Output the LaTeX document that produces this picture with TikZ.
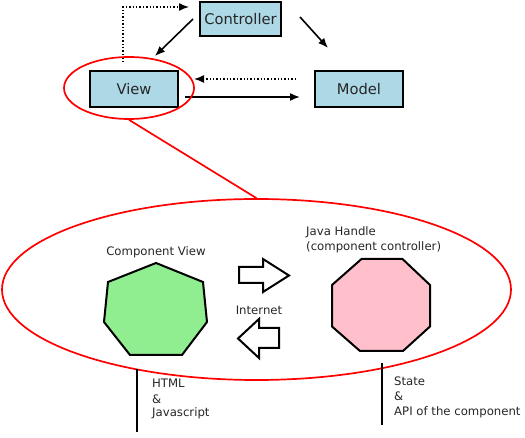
\documentclass[tikz,border=0pt]{standalone}
\usepackage{fontspec}
\setmainfont{DejaVu Sans}
\usetikzlibrary{arrows.meta,shapes.geometric}
\definecolor{boxblue}{HTML}{ADD8E6}
\definecolor{hepgreen}{HTML}{90EE90}
\definecolor{octpink}{HTML}{FFC0CB}
\tikzset{
  mvcbox/.style={draw=black,line width=2pt,fill=boxblue,inner sep=0pt,text=black!85,font=\fontsize{14.7}{17}\selectfont},
  solidarr/.style={line width=1.6pt,-{Latex[length=10pt,width=8pt]}},
  dotarr/.style={line width=1.4pt,dotted,-{Latex[length=10pt,width=8pt]}},
  redring/.style={draw=red,line width=1.7pt,ellipse,inner sep=0pt},
  shapeline/.style={draw=black,line width=2pt},
  lbl/.style={inner sep=0pt,font=\fontsize{11.7}{15}\selectfont,text=black!85},
  stem/.style={line width=2pt}
}
\begin{document}
\begin{tikzpicture}[x=1pt,y=-1pt]
\useasboundingbox (0,0) rectangle (525,438);
% MVC boxes
\node[mvcbox,minimum width=81pt,minimum height=34pt] (Controller) at (240.5,19) {Controller};
\node[mvcbox,minimum width=88pt,minimum height=36pt] (View) at (134,89) {View};
\node[mvcbox,minimum width=88pt,minimum height=36pt] (Model) at (359,89) {Model};
% MVC arrows
\draw[dotarr] ([xshift=-11pt,yshift=8pt]View.north) |- ([xshift=-10pt,yshift=12pt]Controller.west);
\draw[solidarr] ([xshift=-6pt]Controller.west) -- ([xshift=21pt,yshift=14pt]View.north);
\draw[solidarr] ([xshift=18pt,yshift=2pt]Controller.east) -- ([xshift=-31pt,yshift=22pt]Model.north);
\draw[dotarr] ([xshift=-18pt,yshift=10pt]Model.west) -- ([xshift=15pt,yshift=10pt]View.east);
\draw[solidarr] ([xshift=6pt,yshift=-8pt]View.east) -- ([xshift=-14pt,yshift=-8pt]Model.west);
% red ellipses
\node[redring,minimum width=130pt,minimum height=62pt] (small) at (129,88) {};
\node[redring,minimum width=509pt,minimum height=181pt] (big) at (256.5,289.5) {};
\draw[red,line width=1.7pt] (small.south) -- (big.north);
% heptagon (component view)
\coordinate (hep) at (155.5,311);
\filldraw[shapeline,fill=hepgreen,line join=miter] (156,263) -- (203,282) -- (207,322) -- (182,355) -- (130,355) -- (104,322) -- (108,282) -- cycle;
% octagon (java handle)
\coordinate (oct) at (381,305);
\filldraw[shapeline,fill=octpink,line join=miter] (361.5,259) -- (402.5,259) -- (430,285) -- (430,326.5) -- (403,351) -- (360,351) -- (332,326.5) -- (332,285) -- cycle;
% block arrows
\filldraw[draw=black,fill=white,line width=2pt,line join=miter] (239,267) -- (263,267) -- (263,259) -- (289,275.5) -- (263,292) -- (263,283) -- (239,283) -- cycle;
\filldraw[draw=black,fill=white,line width=2pt,line join=miter] (238,338.5) -- (259,319) -- (259,328) -- (279,328) -- (279,348) -- (259,348) -- (259,358) -- cycle;
% labels
\node[lbl,anchor=base] (cv) at (156,256) {Component View};
\node[lbl,anchor=base west] (jh1) at (306,236) {Java Handle};
\node[lbl,anchor=base west] (jh2) at (306,251) {(component controller)};
\node[lbl,anchor=base] (inet) at (259,315) {Internet};
% stems
\coordinate (ls1) at (137,369);
\coordinate (ls2) at (137,432);
\coordinate (rs1) at (382,363);
\coordinate (rs2) at (382,425);
\draw[stem] (ls1) -- (ls2);
\draw[stem] (rs1) -- (rs2);
\node[lbl,anchor=base west] (h1) at (152,388) {HTML};
\node[lbl,anchor=base west] (h2) at (152,403) {\&};
\node[lbl,anchor=base west] (h3) at (152,417) {Javascript};
\node[lbl,anchor=base west] (s1) at (394,385) {State};
\node[lbl,anchor=base west] (s2) at (394,400) {\&};
\node[lbl,anchor=base west] (s3) at (394,415) {API of the component};
\end{tikzpicture}
\end{document}
